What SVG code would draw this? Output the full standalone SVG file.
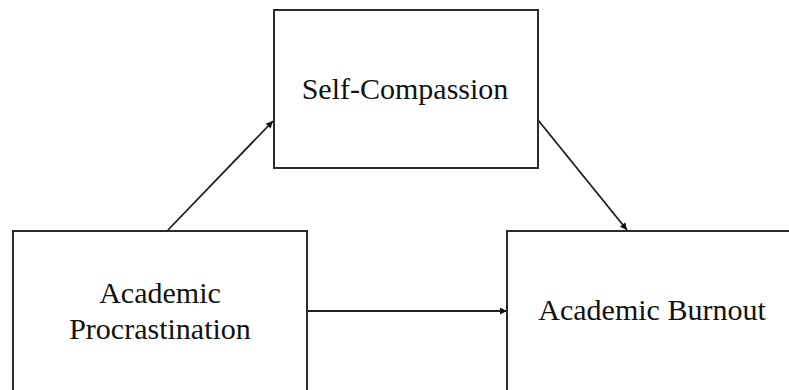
<svg xmlns="http://www.w3.org/2000/svg" width="789" height="390" viewBox="0 0 789 390">
<style>
.box{fill:#fff;stroke:#2a2a2a;stroke-width:2}
.lbl{font-family:"Liberation Serif","Times New Roman",serif;font-size:30px;fill:#111;text-anchor:middle}
.edge{stroke:#1e1e1e;stroke-width:1.8;fill:none;marker-end:url(#ah)}
</style>
<defs>
<marker id="ah" viewBox="0 0 10 10" refX="10" refY="5" markerWidth="9" markerHeight="7" markerUnits="userSpaceOnUse" orient="auto">
<path d="M0,0 L10,5 L0,10 z" fill="#111"/>
</marker>
</defs>
<rect width="789" height="390" fill="#fff"/>
<g id="connectors">
<line class="edge" x1="168" y1="230" x2="273" y2="121"/>
<line class="edge" x1="538" y1="120" x2="627" y2="230"/>
<line class="edge" x1="307" y1="311" x2="507" y2="311"/>
</g>
<g id="self-compassion">
<rect class="box" x="274" y="10" width="264" height="158"/>
<text class="lbl" x="405" y="99">Self-Compassion</text>
</g>
<g id="academic-procrastination">
<rect class="box" x="13" y="231" width="294" height="170"/>
<text class="lbl" x="160" y="303">Academic</text>
<text class="lbl" x="160" y="339">Procrastination</text>
</g>
<g id="academic-burnout">
<rect class="box" x="507" y="231" width="300" height="170"/>
<text class="lbl" x="652" y="320">Academic Burnout</text>
</g>
</svg>
